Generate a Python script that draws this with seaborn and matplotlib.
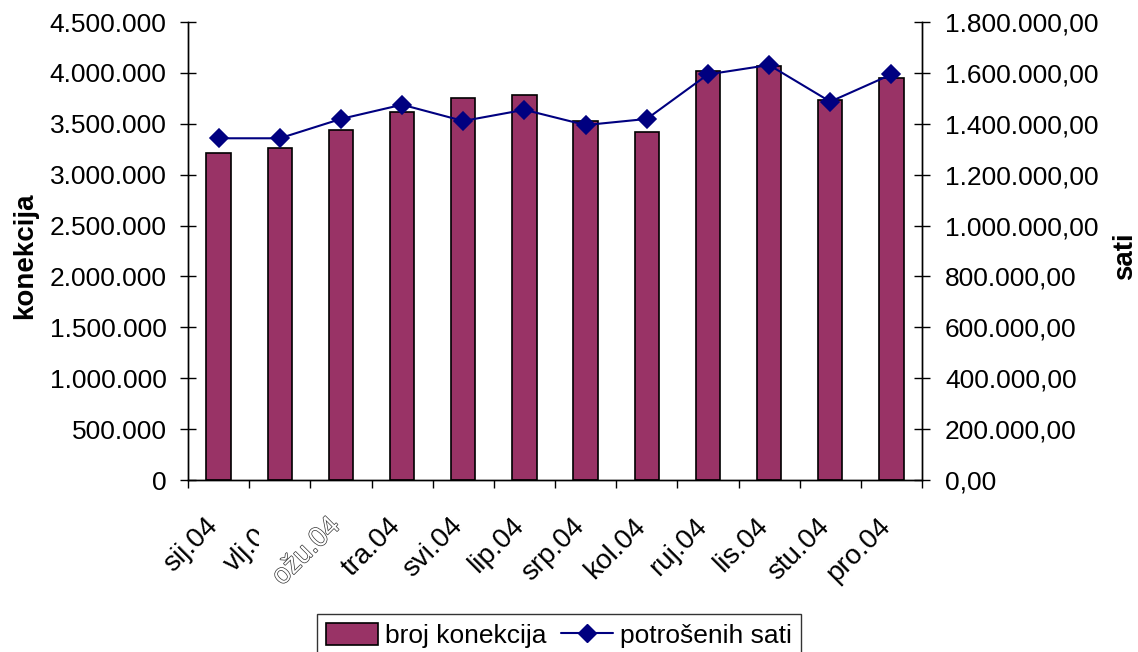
import numpy as np
import pandas as pd
import matplotlib
matplotlib.use("Agg")
import matplotlib.pyplot as plt
import matplotlib.patches as mpatches
import matplotlib.lines as mlines
import matplotlib.patheffects as pe
from matplotlib.transforms import Bbox, TransformedBbox, ScaledTranslation
from matplotlib.ticker import FuncFormatter, MultipleLocator, FixedLocator
import seaborn as sns

# data
months = ["sij.04", "vlj.04", "ožu.04", "tra.04", "svi.04", "lip.04",
          "srp.04", "kol.04", "ruj.04", "lis.04", "stu.04", "pro.04"]
konekcije = [3215000, 3262000, 3439000, 3613000, 3750000, 3783000,
             3527000, 3422000, 4019000, 4068000, 3734000, 3953000]
sati = [1343000, 1343000, 1419000, 1475000, 1411000, 1455000,
        1395000, 1419000, 1594000, 1631000, 1487000, 1594000]

BAR_COLOR = "#993366"
LINE_COLOR = "#000080"

sns.set_theme(style="ticks")
plt.rcParams.update({
    "font.family": ["Liberation Sans", "DejaVu Sans"],
    "font.size": 19,
    "text.color": "black",
    "axes.labelcolor": "black",
    "xtick.color": "black",
    "ytick.color": "black",
})

df = pd.DataFrame({"mjesec": months, "konekcije": konekcije, "sati": sati})


def thousands(x, _):
    return f"{int(round(x)):,}".replace(",", ".")


def thousands_dec(x, _):
    return f"{int(round(x)):,}".replace(",", ".") + ",00"


fig = plt.figure(figsize=(11.38, 6.52), dpi=100)
ax = fig.add_axes([188 / 1138, 1 - 480 / 652, (922 - 188) / 1138, (480 - 22) / 652])

sns.barplot(data=df, x="mjesec", y="konekcije", ax=ax, color=BAR_COLOR,
            width=0.4, edgecolor="black", linewidth=1.2, saturation=1)

ax2 = ax.twinx()
sns.pointplot(data=df, x="mjesec", y="sati", ax=ax2, color=LINE_COLOR,
              markers="D", markersize=9.5, linewidth=1.5)

ax.set_xlim(-0.5, len(months) - 0.5)
ax.set_ylim(0, 4500000)
ax2.set_ylim(0, 1800000)
ax.yaxis.set_major_locator(MultipleLocator(500000))
ax2.yaxis.set_major_locator(MultipleLocator(200000))
ax.yaxis.set_major_formatter(FuncFormatter(thousands))
ax2.yaxis.set_major_formatter(FuncFormatter(thousands_dec))

for a in (ax, ax2):
    a.spines["top"].set_visible(False)
    for s in a.spines.values():
        s.set_linewidth(1.0)
        s.set_color("black")
ax2.spines["right"].set_visible(True)

ax.set_xlabel("")
ax.set_ylabel("konekcija", fontsize=20, fontweight="bold", va="center")
ax2.set_ylabel("sati", fontsize=20, fontweight="bold", va="center")
ax.yaxis.set_label_coords(-0.222, 0.489)
ax2.yaxis.set_label_coords(1.277, 0.489)

# category ticks at boundaries, labels at centres
ax.xaxis.set_minor_locator(FixedLocator(np.arange(-0.5, len(months), 1.0)))
ax.tick_params(axis="x", which="major", length=0, pad=0)
ax.tick_params(axis="x", which="minor", length=6, width=1, direction="out", color="black")
ax.tick_params(axis="y", length=11, width=1, direction="inout", pad=10, labelsize=19)
ax2.tick_params(axis="y", length=11, width=1, direction="inout", pad=11, labelsize=19)
ax.set_xticks(range(len(months)))
ax.set_xticklabels(months, rotation=45, ha="right", va="top",
                   rotation_mode="anchor", fontsize=20)

offset = ScaledTranslation(-14 / 100, -33 / 100, fig.dpi_scale_trans)
labels = ax.get_xticklabels()
for lbl in labels:
    lbl.set_transform(lbl.get_transform() + offset)
# third label appears as hollow outline text in the reference
labels[2].set_color("white")
labels[2].set_path_effects([pe.withStroke(linewidth=1.0, foreground="#333333")])
# second label is cut off in the reference
labels[1].set_clip_on(True)
labels[1].set_clip_box(TransformedBbox(Bbox([[0, 0], [259 / 1138, 1]]), fig.transFigure))

bar_handle = mpatches.Patch(facecolor=BAR_COLOR, edgecolor="black", linewidth=1.2)
line_handle = mlines.Line2D([], [], color=LINE_COLOR, marker="D", markersize=9.5, linewidth=1.5)
leg = fig.legend([bar_handle, line_handle], ["broj konekcija", "potrošenih sati"],
                 loc="upper center", bbox_to_anchor=(559 / 1138, 1 - 614 / 652),
                 ncol=2, frameon=True, fancybox=False, fontsize=19,
                 handlelength=1.95, handleheight=0.9, handletextpad=0.27,
                 columnspacing=0.55, borderpad=0.35, borderaxespad=0)
leg.get_frame().set_edgecolor("black")
leg.get_frame().set_linewidth(1.0)

fig.savefig("out.png", dpi=100)
